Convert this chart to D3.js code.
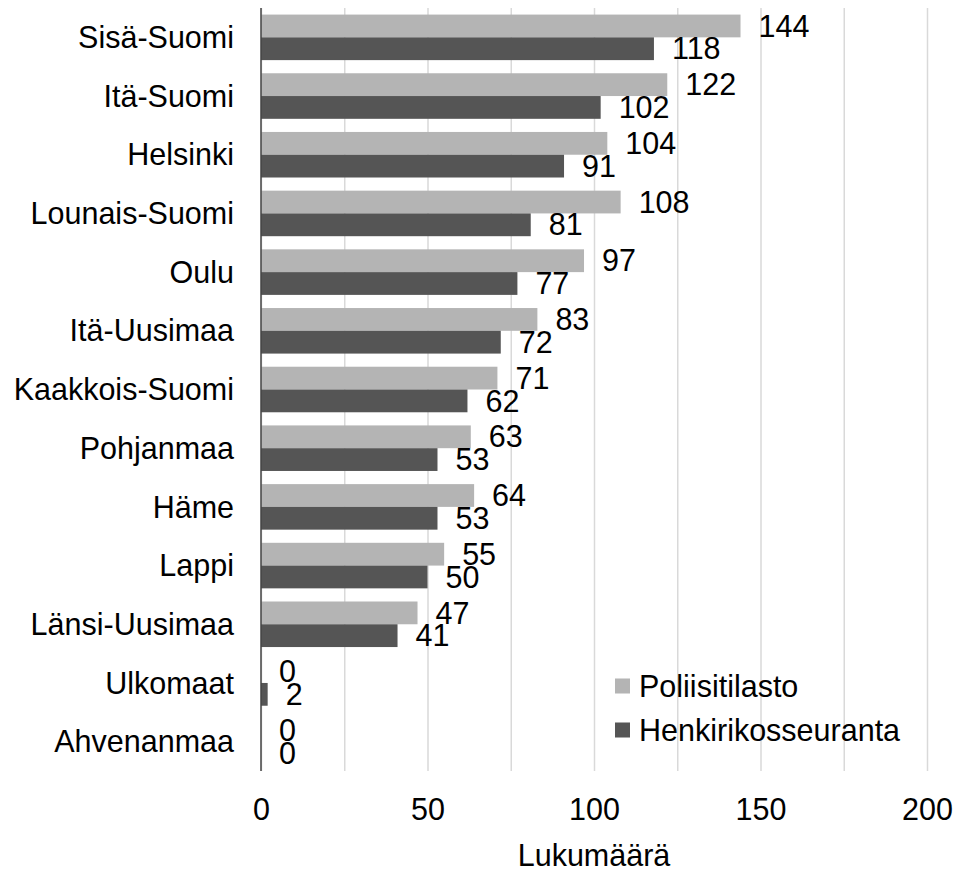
<!DOCTYPE html>
<html>
<head>
<meta charset="utf-8">
<script src="https://cdn.jsdelivr.net/npm/d3@7"></script>
<style>
  body { margin: 0; background: #fff; }
  text { font-family: "Liberation Sans", Arial, sans-serif; fill: #000; }
</style>
</head>
<body>
<svg id="chart" width="957" height="870"></svg>
<script>
const regions = ['Sisä-Suomi', 'Itä-Suomi', 'Helsinki', 'Lounais-Suomi', 'Oulu', 'Itä-Uusimaa',
  'Kaakkois-Suomi', 'Pohjanmaa', 'Häme', 'Lappi', 'Länsi-Uusimaa', 'Ulkomaat', 'Ahvenanmaa'];
const poliisitilasto = [144, 122, 104, 108, 97, 83, 71, 63, 64, 55, 47, 0, 0];
const henkirikosseuranta = [118, 102, 91, 81, 77, 72, 62, 53, 53, 50, 41, 2, 0];
const seriesNames = ['Poliisitilasto', 'Henkirikosseuranta'];
const gridTicks = [0, 25, 50, 75, 100, 125, 150, 175, 200];
const labelTicks = [0, 50, 100, 150, 200];

const svg = d3.select('#chart');
const fontSize = 30.5;
const colors = d3.scaleOrdinal().domain(seriesNames).range(['#b4b4b4', '#555555']);

const plotTop = 8, plotBottom = 771;
const x = d3.scaleLinear().domain([0, 200]).range([261, 927]);
const y = d3.scaleBand().domain(regions).range([plotTop, plotBottom])
  .paddingInner(0.224).paddingOuter(0.112);
const ySeries = d3.scaleBand().domain(seriesNames).range([0, y.bandwidth()]);

const rows = regions.map((r, i) => ({
  region: r,
  values: [
    { name: seriesNames[0], value: poliisitilasto[i] },
    { name: seriesNames[1], value: henkirikosseuranta[i] }
  ]
}));

// gridlines
svg.append('g')
  .attr('transform', `translate(0,${plotBottom})`)
  .call(d3.axisBottom(x).tickValues(gridTicks).tickSize(-(plotBottom - plotTop)).tickFormat(''))
  .call(g => g.select('.domain').remove())
  .call(g => g.selectAll('line').attr('stroke', '#d9d9d9').attr('stroke-width', 1.5));

// tick labels
svg.append('g')
  .attr('transform', `translate(0,${plotBottom})`)
  .call(d3.axisBottom(x).tickValues(labelTicks).tickSize(0).tickPadding(0))
  .call(g => g.select('.domain').remove())
  .call(g => g.selectAll('text')
    .attr('y', 38)
    .attr('dy', '0.35em')
    .style('font-size', `${fontSize}px`)
    .attr('font-family', null));

// bars
const groups = svg.append('g').selectAll('g')
  .data(rows)
  .join('g')
    .attr('transform', d => `translate(0,${y(d.region)})`);

groups.selectAll('rect')
  .data(d => d.values)
  .join('rect')
    .attr('x', x(0))
    .attr('y', d => ySeries(d.name))
    .attr('width', d => x(d.value) - x(0))
    .attr('height', ySeries.bandwidth())
    .attr('fill', d => colors(d.name));

groups.selectAll('text.value')
  .data(d => d.values)
  .join('text')
    .attr('class', 'value')
    .attr('x', d => x(d.value) + 18)
    .attr('y', d => ySeries(d.name) + ySeries.bandwidth() / 2)
    .attr('dy', '0.35em')
    .style('font-size', `${fontSize}px`)
    .text(d => d.value);

// category labels
svg.append('g').selectAll('text')
  .data(regions)
  .join('text')
    .attr('x', 234)
    .attr('y', d => y(d) + y.bandwidth() / 2)
    .attr('dy', '0.35em')
    .attr('text-anchor', 'end')
    .style('font-size', `${fontSize}px`)
    .text(d => d);

// vertical axis line
svg.append('line')
  .attr('x1', x(0)).attr('x2', x(0))
  .attr('y1', plotTop).attr('y2', plotBottom)
  .attr('stroke', '#444')
  .attr('stroke-width', 1.5);

// x axis title
svg.append('text')
  .attr('x', 594)
  .attr('y', 855)
  .attr('dy', '0.35em')
  .attr('text-anchor', 'middle')
  .style('font-size', `${fontSize}px`)
  .text('Lukumäärä');

// legend
const legend = svg.append('g').selectAll('g')
  .data(seriesNames)
  .join('g')
    .attr('transform', (d, i) => `translate(615,${686 + i * 44})`);

legend.append('rect')
  .attr('y', -7.5)
  .attr('width', 15)
  .attr('height', 15)
  .attr('fill', d => colors(d));

legend.append('text')
  .attr('x', 24)
  .attr('dy', '0.35em')
  .style('font-size', `${fontSize}px`)
  .text(d => d);
</script>
</body>
</html>
